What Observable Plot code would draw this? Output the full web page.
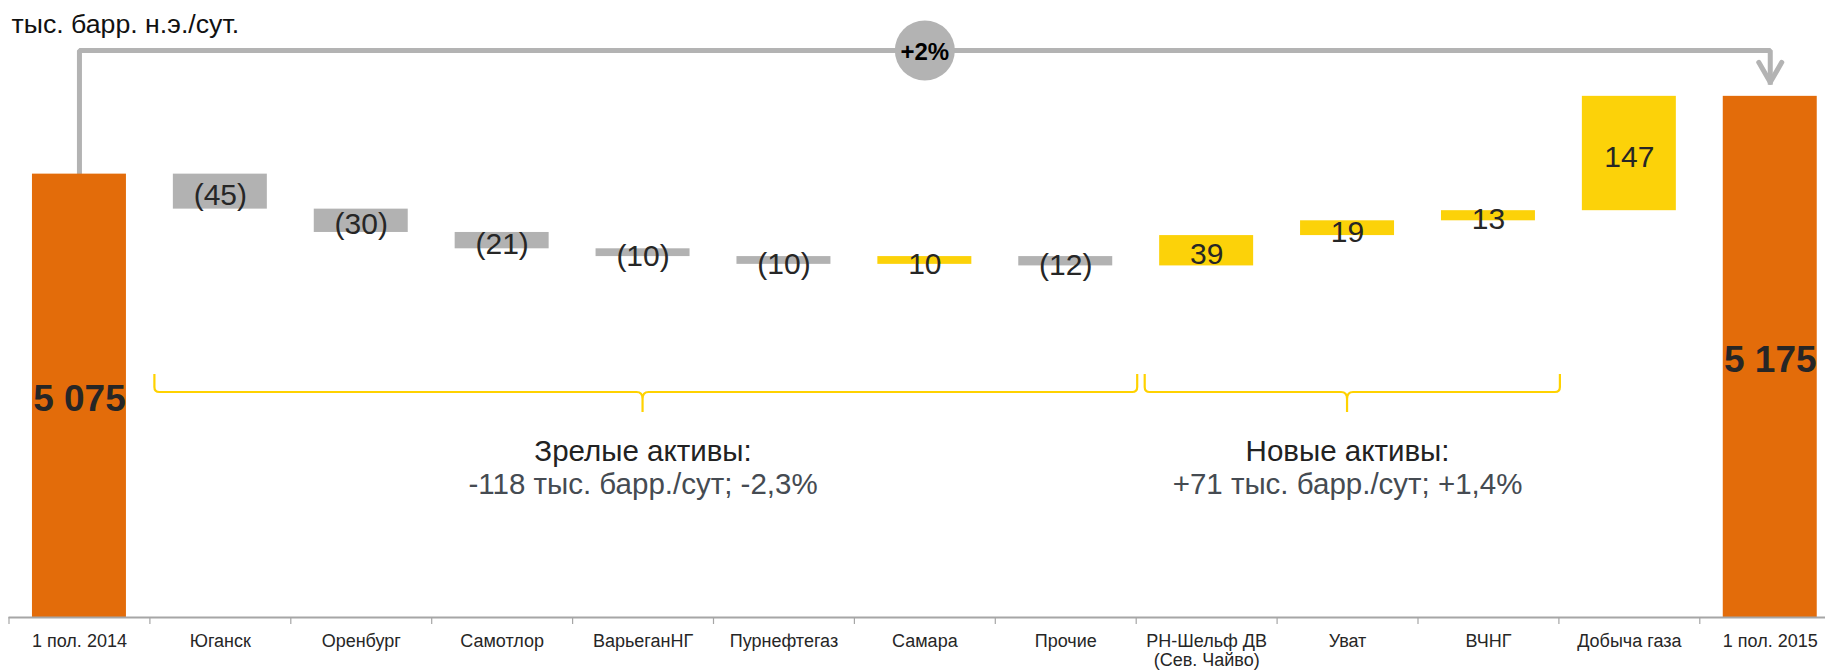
<!DOCTYPE html>
<html>
<head>
<meta charset="utf-8">
<script src="https://cdn.jsdelivr.net/npm/d3@7"></script>
<script src="https://cdn.jsdelivr.net/npm/@observablehq/plot@0.6"></script>
<style>
html, body { margin: 0; padding: 0; background: #fff; overflow: hidden; }
#chart { width: 1825px; height: 670px; }
</style>
</head>
<body>
<div id="chart"></div>
<script>
// ---- data ----
const unitLabel = "тыс. барр. н.э./сут.";
const categories = ["1 пол. 2014", "Юганск", "Оренбург", "Самотлор", "ВарьеганНГ", "Пурнефтегаз", "Самара", "Прочие", "РН-Шельф ДВ\n(Сев. Чайво)", "Уват", "ВЧНГ", "Добыча газа", "1 пол. 2015"];
const values = [5075, -45, -30, -21, -10, -10, 10, -12, 39, 19, 13, 147, 5175];
const kinds = ["total", "delta", "delta", "delta", "delta", "delta", "delta", "delta", "delta", "delta", "delta", "delta", "total"];
const groupNames = ["Зрелые активы:", "Новые активы:"];
const groupSummaries = ["-118 тыс. барр./сут; -2,3%", "+71 тыс. барр./сут; +1,4%"];
const groupMembers = [
  ["Юганск", "Оренбург", "Самотлор", "ВарьеганНГ", "Пурнефтегаз", "Самара", "Прочие"],
  ["РН-Шельф ДВ\n(Сев. Чайво)", "Уват", "ВЧНГ"]
];
const growthLabel = "+2%";
const bridgeLevel = 5234;   // level of the connector line
const arrowTip = 5193;      // where the connector arrow ends
const yDomain = [4505, 5245];

// ---- styles ----
const ORANGE = "#E36C0A", YELLOW = "#FCD209", GRAY = "#B2B2B2", LINE = "#B3B3B3", BRACE = "#FFD200";
const W = 1825, H = 670, ML = 8.5, MR = -15.2, MT = 41.4, MB = 53;
const step = (W - ML - MR) / categories.length;
const FONT = "'Liberation Sans', Arial, sans-serif";

const fmtTotal = v => String(v).replace(/\B(?=(\d{3})+(?!\d))/g, " ");

// ---- derived table ----
let running = 0;
const rows = categories.map((cat, i) => {
  const v = values[i], kind = kinds[i];
  let y1, y2;
  if (kind === "total") { y1 = 0; y2 = v; running = v; }
  else { y1 = running; y2 = running + v; running = y2; }
  return {
    cat, value: v, kind, y1, y2,
    mid: kind === "total" ? (yDomain[0] + v) / 2 : (y1 + y2) / 2,
    label: kind === "total" ? fmtTotal(v) : (v < 0 ? `(${-v})` : `${v}`),
    color: kind === "total" ? ORANGE : (v < 0 ? GRAY : YELLOW)
  };
});
const totals = rows.filter(d => d.kind === "total");
const deltas = rows.filter(d => d.kind === "delta");
const first = categories[0], last = categories[categories.length - 1];
const middleCat = categories[Math.floor(categories.length / 2)];
const bridge = [
  {cat: first, v: values[0]},
  {cat: first, v: bridgeLevel},
  {cat: last, v: bridgeLevel},
  {cat: last, v: arrowTip}
];
const groups = groupNames.map((name, i) => ({
  name, summary: groupSummaries[i], members: groupMembers[i],
  center: groupMembers[i][Math.floor(groupMembers[i].length / 2)]
}));

const arrowHead = {
  draw(ctx) { ctx.moveTo(-11.5, -20); ctx.lineTo(0, 0); ctx.lineTo(11.5, -20); }
};

// braces under the groups (drawn with the x scale)
const braceStartInset = [5, 9];
function braces(index, scales) {
  const x = scales.x;
  const bw = x.bandwidth(), st = x.step(), gap = (st - bw) / 2;
  const yTop = 374, yMid = 392, yTip = 412;
  const g = d3.create("svg:g").attr("fill", "none").attr("stroke", BRACE).attr("stroke-width", 2.2);
  groups.forEach((grp, gi) => {
    const x0 = x(grp.members[0]) - gap + braceStartInset[gi];
    const x1 = x(grp.members[grp.members.length - 1]) + bw + gap + 1.5;
    const xm = x(grp.center) + bw / 2;
    const p = `M${x0},${yTop} L${x0},${yMid - 5} Q${x0},${yMid} ${x0 + 5},${yMid} L${xm - 6},${yMid} Q${xm},${yMid} ${xm},${yMid + 7} L${xm},${yTip} M${xm},${yMid + 7} Q${xm},${yMid} ${xm + 6},${yMid} L${x1 - 5},${yMid} Q${x1},${yMid} ${x1},${yMid - 5} L${x1},${yTop}`;
    g.append("path").attr("d", p);
  });
  return g.node();
}

const chart = Plot.plot({
  width: W, height: H,
  marginLeft: ML, marginRight: MR, marginTop: MT, marginBottom: MB,
  style: {fontFamily: FONT, background: "white", color: "#262626"},
  x: {type: "band", domain: categories, paddingInner: 0.333, paddingOuter: 0.1665, round: false, axis: null},
  y: {domain: yDomain, axis: null},
  color: {type: "identity"},
  marks: [
    // connector + arrow
    Plot.line(bridge, {x: "cat", y: "v", stroke: LINE, strokeWidth: 5, strokeLinejoin: "miter", strokeLinecap: "square"}),
    Plot.dot([last], {x: d => d, y: arrowTip, symbol: arrowHead, fill: "none", stroke: LINE, strokeWidth: 5, strokeLinecap: "round", strokeLinejoin: "round"}),
    // bars
    Plot.barY(rows, {x: "cat", y1: "y1", y2: "y2", fill: "color", clip: true}),
    // axis line and boundary ticks
    Plot.ruleY([yDomain[0]], {stroke: "#A6A6A6", strokeWidth: 2}),
    Plot.ruleX(categories, {x: d => d, dx: -step / 2, y1: yDomain[0], y2: yDomain[0], insetBottom: -7, stroke: "#A6A6A6", strokeWidth: 1.2}),
    Plot.text(categories, {x: d => d, text: d => d, frameAnchor: "bottom", lineAnchor: "top", dy: 16, fontSize: 18, lineHeight: 1.05, fill: "#262626"}),
    // value labels
    Plot.text(deltas, {x: "cat", y: "mid", text: "label", fontSize: 30, fill: "#262626", dy: 4}),
    Plot.text(totals, {x: "cat", y: "mid", text: "label", fontSize: 37, fontWeight: "bold", fill: "#262626", dy: 3}),
    // growth bubble
    Plot.dot([middleCat], {x: d => d, y: bridgeLevel, r: 30, fill: LINE}),
    Plot.text([growthLabel], {x: () => middleCat, y: bridgeLevel, text: d => d, fontSize: 24, fontWeight: "bold", fill: "#000", dy: 2}),
    // braces and group labels
    braces,
    Plot.text(groups, {x: "center", text: "name", frameAnchor: "bottom", lineAnchor: "middle", dy: -166, fontSize: 29.5, fill: "#222"}),
    Plot.text(groups, {x: "center", text: "summary", frameAnchor: "bottom", lineAnchor: "middle", dy: -133, fontSize: 29.5, fill: "#454b52"}),
    // unit label
    Plot.text([unitLabel], {frameAnchor: "top-left", textAnchor: "start", lineAnchor: "middle", dx: 2.5, dy: -17.7, text: d => d, fontSize: 26.7, fill: "#111"})
  ]
});
document.getElementById("chart").appendChild(chart);
</script>
</body>
</html>
